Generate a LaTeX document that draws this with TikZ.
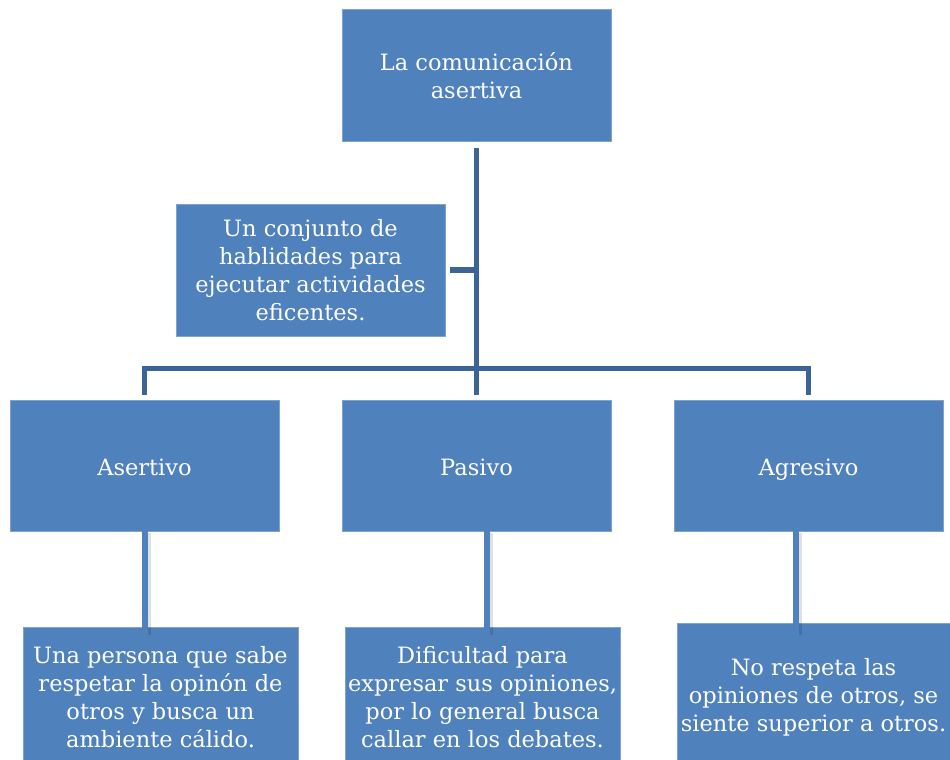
\documentclass[tikz,border=0pt]{standalone}
\usepackage{fontspec}
\setmainfont{DejaVu Serif}
\usetikzlibrary{calc}
\definecolor{boxblue}{HTML}{4F81BD}
\definecolor{boxedge}{HTML}{7FA3D0}
\definecolor{darkline}{HTML}{3C6597}
\begin{document}
\begin{tikzpicture}[x=1pt,y=-1pt,
  bx/.style={fill=boxblue,draw=boxedge,line width=0.8pt,text=white,align=center,inner sep=0pt,
    font=\fontsize{22.5}{28}\selectfont},
  one/.style={text height=21pt,text depth=2pt},
  topline/.style={draw=darkline,line width=5.5pt,line join=miter},
  lowline/.style={draw=boxblue,line width=5.5pt},
  lowshadow/.style={draw=black,opacity=0.12,line width=6pt}]
\useasboundingbox (0,0) rectangle (950,760);
\fill[white] (0,0) rectangle (950,760);
% boxes
\node[bx,minimum width=269pt,minimum height=132pt] (top) at (476.5,75.5) {La comunicación\\asertiva};
\node[bx,minimum width=269pt,minimum height=132pt] (desc) at (310.5,270) {Un conjunto de\\hablidades para\\ejecutar actividades\\eficentes.};
\node[bx,one,minimum width=269pt,minimum height=131pt] (asertivo) at (144.5,465.5) {Asertivo};
\node[bx,one,minimum width=269pt,minimum height=131pt] (pasivo) at (476.5,465.5) {Pasivo};
\node[bx,one,minimum width=269pt,minimum height=131pt] (agresivo) at (808.5,465.5) {Agresivo};
\node[bx,minimum width=275pt,minimum height=140pt] (ej1) at (160.5,697) {Una persona que sabe\\respetar la opinón de\\otros y busca un\\ambiente cálido.};
\node[bx,minimum width=275pt,minimum height=140pt] (ej2) at (482.5,697) {Dificultad para\\expresar sus opiniones,\\por lo general busca\\callar en los debates.};
\node[bx,minimum width=273pt,minimum height=148pt] (ej3) at (813.5,697) {No respeta las\\opiniones de otros, se\\siente superior a otros.};
% top connectors
\draw[topline,shorten <=6pt,shorten >=5pt] (top.south) -- (pasivo.north);
\draw[topline,shorten <=5pt,shorten >=5pt] (asertivo.north) -- ++(0,-31) -| (agresivo.north);
\draw[topline,shorten <=5pt] (desc.east) -- (desc.east -| top.south);
% lower connectors
\coordinate (a1) at ([xshift=0.5pt]asertivo.south);
\coordinate (a2) at ([xshift=10.5pt]pasivo.south);
\coordinate (a3) at ([xshift=-12.5pt]agresivo.south);
\draw[lowshadow] ($(a1)+(2.5,2)$) -- ($(a1 |- ej1.north)+(2.5,8)$);
\draw[lowshadow] ($(a2)+(2.5,2)$) -- ($(a2 |- ej2.north)+(2.5,8)$);
\draw[lowshadow] ($(a3)+(2.5,2)$) -- ($(a3 |- ej3.north)+(2.5,12)$);
\draw[lowline] (a1) -- ($(a1 |- ej1.north)+(0,8)$);
\draw[lowline] (a2) -- ($(a2 |- ej2.north)+(0,8)$);
\draw[lowline] (a3) -- ($(a3 |- ej3.north)+(0,12)$);
\end{tikzpicture}
\end{document}
